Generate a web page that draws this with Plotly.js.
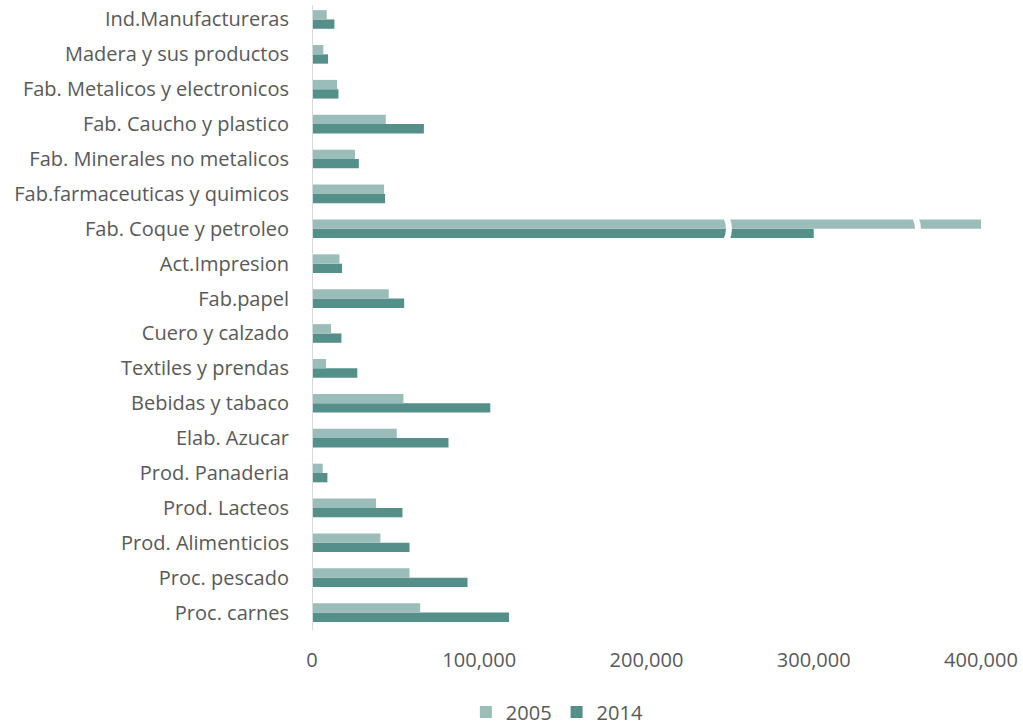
<!DOCTYPE html>
<html>
<head>
<meta charset="utf-8">
<script src="https://cdn.plot.ly/plotly-3.0.1.min.js"></script>
<style>
  html, body { margin: 0; padding: 0; background: #ffffff; }
  #chart { width: 1023px; height: 725px; }
</style>
</head>
<body>
<div id="chart"></div>
<script>
// Sectors, listed bottom to top as they appear on the axis
const sectors = [
  "Proc. carnes",
  "Proc. pescado",
  "Prod. Alimenticios",
  "Prod. Lacteos",
  "Prod. Panaderia",
  "Elab. Azucar",
  "Bebidas y tabaco",
  "Textiles y prendas",
  "Cuero y calzado",
  "Fab.papel",
  "Act.Impresion",
  "Fab. Coque y petroleo",
  "Fab.farmaceuticas y quimicos",
  "Fab. Minerales no metalicos",
  "Fab. Caucho y plastico",
  "Fab. Metalicos y electronicos",
  "Madera y sus productos",
  "Ind.Manufactureras"
];

const values2005 = [
  64700, 58300, 40900, 38300, 6400, 50700, 54700, 8400, 11400,
  45900, 16400, 400000, 43100, 25700, 44100, 15000, 6800, 8800
];

const values2014 = [
  117800, 93000, 58300, 54100, 9200, 81600, 106600, 27100, 17600,
  55100, 18000, 300000, 43700, 28000, 66900, 15800, 9600, 13400
];

const xTickVals = [0, 100000, 200000, 300000, 400000];
const xTickText = ["0", "100,000", "200,000", "300,000", "400,000"];

const colorLight = "#9bbdb9";
const colorDark = "#558f89";
const textColor = "#595959";
const fontFamily = "'Open Sans', sans-serif";
const fontSize = 20;

// 2014 is added first so that 2005 sits above it in each group
const traces = [
  {
    type: "bar",
    orientation: "h",
    name: "2014",
    y: sectors,
    x: values2014,
    marker: { color: colorDark },
    hoverinfo: "x+name"
  },
  {
    type: "bar",
    orientation: "h",
    name: "2005",
    y: sectors,
    x: values2005,
    marker: { color: colorLight },
    hoverinfo: "x+name"
  }
];

// White break marks across the long Coque y petroleo bars
const coqueIdx = sectors.indexOf("Fab. Coque y petroleo");
function breakMark(xv) {
  const y0 = coqueIdx - 0.32, y1 = coqueIdx + 0.32;
  return {
    type: "path",
    xref: "x", yref: "y",
    path: "M " + (xv - 1200) + "," + y0 + " Q " + (xv + 1800) + "," + coqueIdx + " " + (xv - 1200) + "," + y1,
    line: { color: "#ffffff", width: 6 },
    fillcolor: "rgba(0,0,0,0)"
  };
}

const layout = {
  width: 1023,
  height: 725,
  margin: { l: 312, r: 42, t: 2, b: 95, autoexpand: false },
  paper_bgcolor: "#ffffff",
  plot_bgcolor: "#ffffff",
  font: { family: fontFamily, size: fontSize, color: textColor },
  barmode: "group",
  bargap: 0.465,
  bargroupgap: 0,
  showlegend: true,
  legend: {
    orientation: "h",
    traceorder: "reversed",
    x: 0.23,
    xanchor: "left",
    yref: "container",
    y: 0.018,
    yanchor: "middle",
    font: { family: fontFamily, size: fontSize, color: textColor },
    itemwidth: 30
  },
  xaxis: {
    range: [0, 400000],
    tickvals: xTickVals,
    ticktext: xTickText,
    showgrid: false,
    zeroline: false,
    showline: false,
    ticks: "",
    ticklabelstandoff: 16,
    tickfont: { family: fontFamily, size: fontSize, color: textColor },
    fixedrange: true
  },
  yaxis: {
    type: "category",
    categoryorder: "array",
    categoryarray: sectors,
    range: [-0.5, sectors.length - 0.5],
    showgrid: false,
    zeroline: false,
    showline: false,
    ticks: "",
    ticklabelstandoff: 22,
    tickfont: { family: fontFamily, size: fontSize, color: textColor },
    fixedrange: true
  },
  shapes: [
    // vertical axis line at zero
    {
      type: "line",
      xref: "x", yref: "paper",
      x0: 0, x1: 0, y0: 0, y1: 0.995,
      line: { color: "#d9d9d9", width: 2 },
      layer: "above"
    },
    breakMark(249000),
    breakMark(362000)
  ]
};

Plotly.newPlot("chart", traces, layout, { displayModeBar: false, staticPlot: true });
</script>
</body>
</html>
